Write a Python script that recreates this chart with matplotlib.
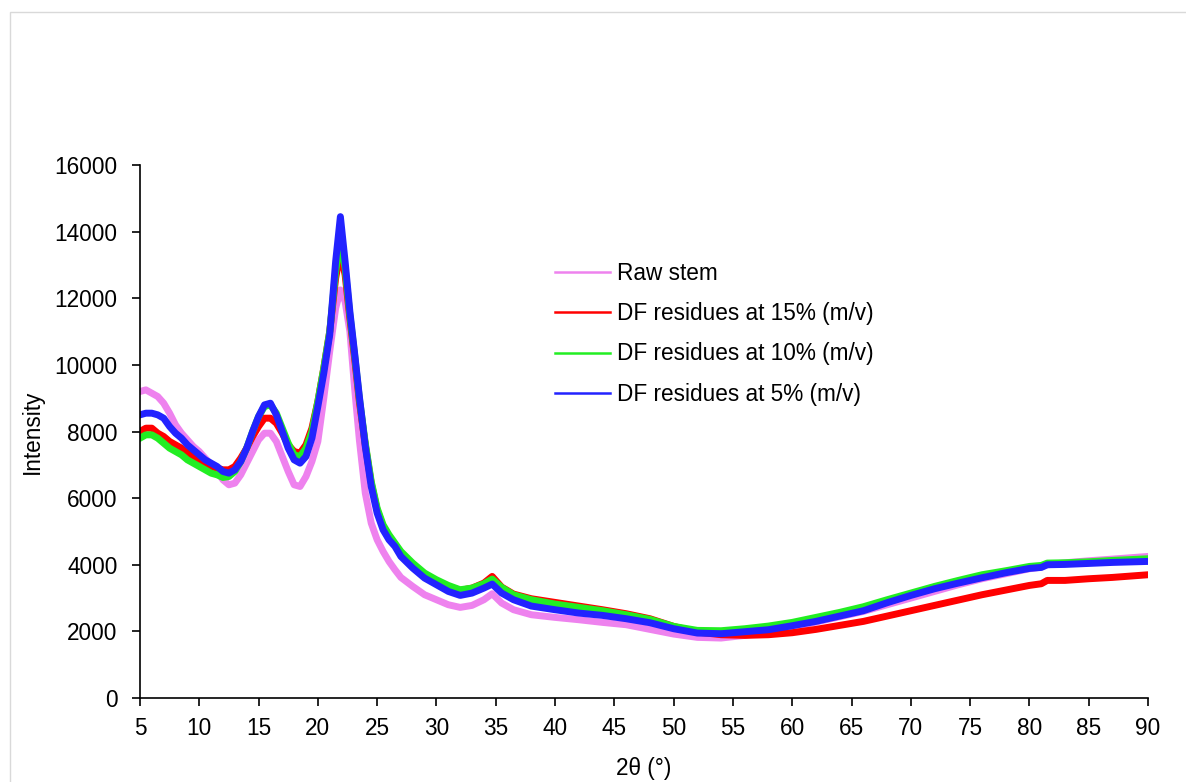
import matplotlib.pyplot as plt
from matplotlib.lines import Line2D
from matplotlib.patches import Rectangle

# 2-theta positions (degrees) at which the curves were read
two_theta = [5, 5.5, 6, 6.5, 7, 7.5, 8, 8.5, 9, 9.5, 10, 10.5, 11, 11.5, 12, 12.5,
             13, 13.5, 14, 14.5, 15, 15.5, 16, 16.5, 17, 17.5, 18, 18.5, 19, 19.5,
             20, 20.5, 21, 21.5, 21.9, 22.3, 22.7, 23.1, 23.5, 24, 24.5, 25, 25.5,
             26, 26.5, 27, 28, 29, 30, 31, 32, 33, 34, 34.7, 35.5, 36.5, 38, 40,
             42, 44, 46, 48, 50, 52, 54, 56, 58, 60, 62, 64, 66, 68, 70, 72, 74,
             76, 78, 80, 81, 81.5, 83, 85, 87, 90]

raw_stem = [9200, 9250, 9150, 9050, 8850, 8550, 8200, 7950, 7750, 7550, 7400, 7200,
            7000, 6800, 6550, 6400, 6450, 6700, 7050, 7400, 7750, 7950, 7950, 7700,
            7250, 6800, 6400, 6350, 6650, 7100, 7700, 9000, 10400, 11700, 12250,
            11900, 11000, 9300, 7750, 6150, 5250, 4750, 4400, 4100, 3850, 3620,
            3350, 3100, 2950, 2800, 2720, 2780, 2950, 3130, 2850, 2650, 2500, 2420,
            2350, 2270, 2200, 2060, 1920, 1820, 1800, 1880, 1980, 2120, 2280, 2440,
            2600, 2800, 3000, 3200, 3400, 3580, 3730, 3880, 3930, 4000, 4060, 4120,
            4170, 4250]

df_15 = [8000, 8100, 8100, 7950, 7850, 7700, 7600, 7500, 7350, 7250, 7150, 7050,
         6950, 6900, 6850, 6850, 6950, 7200, 7500, 7850, 8150, 8400, 8400, 8250,
         7950, 7600, 7400, 7350, 7600, 8100, 8900, 9900, 11000, 12600, 13400,
         12700, 11400, 10200, 8900, 7600, 6450, 5650, 5150, 4850, 4600, 4350,
         4000, 3700, 3500, 3350, 3230, 3300, 3450, 3650, 3330, 3120, 2980, 2870,
         2760, 2650, 2530, 2380, 2150, 1980, 1900, 1880, 1900, 1960, 2060, 2180,
         2300, 2460, 2620, 2780, 2940, 3100, 3240, 3380, 3430, 3530, 3530, 3580,
         3620, 3700]

df_10 = [7800, 7900, 7900, 7800, 7650, 7500, 7400, 7300, 7150, 7050, 6950, 6850,
         6750, 6700, 6620, 6650, 6800, 7100, 7500, 8000, 8450, 8750, 8800, 8550,
         8100, 7650, 7300, 7250, 7500, 8000, 8900, 9900, 11000, 12800, 13800,
         12900, 11500, 10300, 9000, 7650, 6500, 5700, 5200, 4900, 4650, 4400,
         4050, 3750, 3550, 3380, 3250, 3300, 3430, 3570, 3320, 3100, 2950, 2820,
         2720, 2620, 2500, 2360, 2150, 2030, 2020, 2080, 2160, 2270, 2420, 2570,
         2740, 2950, 3150, 3350, 3530, 3700, 3820, 3950, 3980, 4050, 4060, 4090,
         4130, 4180]

df_5 = [8500, 8550, 8550, 8500, 8400, 8150, 7950, 7800, 7600, 7450, 7300, 7150,
        7050, 6950, 6800, 6750, 6850, 7100, 7500, 8000, 8450, 8800, 8850, 8500,
        8000, 7500, 7150, 7050, 7250, 7800, 8750, 9750, 10900, 13100, 14450,
        13100, 11600, 10350, 9050, 7550, 6350, 5550, 5050, 4750, 4550, 4250,
        3900, 3600, 3400, 3200, 3080, 3150, 3300, 3420, 3150, 2950, 2760, 2650,
        2550, 2480, 2380, 2260, 2080, 1950, 1930, 1990, 2050, 2170, 2300, 2460,
        2620, 2860, 3080, 3280, 3450, 3610, 3760, 3890, 3920, 4000, 4010, 4040,
        4070, 4100]

labels = ["Raw stem", "DF residues at 15% (m/v)", "DF residues at 10% (m/v)",
          "DF residues at 5% (m/v)"]
colors = ["#EE82EE", "#FF0000", "#22EE22", "#2222FF"]
x_ticks = list(range(5, 91, 5))
y_ticks = list(range(0, 16001, 2000))

plt.rcParams["font.family"] = ["Liberation Sans", "DejaVu Sans"]

fig = plt.figure(figsize=(11.86, 7.82), dpi=100)
ax = fig.add_axes([0.118, 0.1074, 0.850, 0.6816])

# light frame of the chart area
fig.patches.append(Rectangle((10 / 1186, -0.1), 1.2, 1.1 - 12 / 782, transform=fig.transFigure,
                             fill=False, edgecolor="#D9D9D9", linewidth=1.0))

for series, col in zip([raw_stem, df_15, df_10, df_5], colors):
    ax.plot(two_theta, series, color=col, linewidth=5, solid_joinstyle="round")

ax.set_xlim(5, 90)
ax.set_ylim(0, 16000)
ax.set_xticks(x_ticks)
ax.set_yticks(y_ticks)
ax.tick_params(direction="out", length=6, width=1.2, labelsize=16.3, pad=8)
ax.tick_params(axis="y", pad=10)
for side in ["top", "right"]:
    ax.spines[side].set_visible(False)
for side in ["left", "bottom"]:
    ax.spines[side].set_linewidth(1.2)

ax.set_xlabel("2θ (°)", fontsize=16.3, labelpad=12)
ax.set_ylabel("Intensity", fontsize=16.3, labelpad=8)

handles = [Line2D([0], [0], color=c, linewidth=1.8) for c in colors]
ax.legend(handles, labels, loc="upper left", bbox_to_anchor=(0.4, 0.84),
          frameon=False, fontsize=16.3, handlelength=2.45, handletextpad=0.3,
          labelspacing=0.77, borderpad=0)

fig.savefig("out.png", dpi=100)
plt.close(fig)
